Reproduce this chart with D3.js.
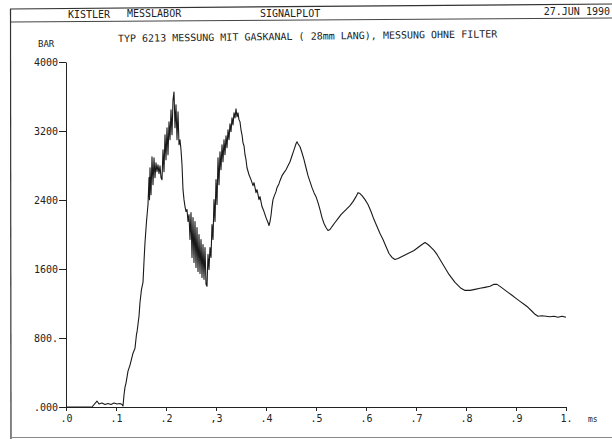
<!DOCTYPE html>
<html>
<head>
<meta charset="utf-8">
<script src="https://cdn.jsdelivr.net/npm/d3@7"></script>
<style>
  body { margin: 0; background: #fff; }
  text { font-family: "DejaVu Sans Mono", monospace; fill: #222; }
</style>
</head>
<body>
<div id="winArea"></div>
<script>
// header / title texts
const headerLeft = ["KISTLER", "MESSLABOR", "SIGNALPLOT"];
const headerDate = "27.JUN 1990";
const plotTitle = "TYP 6213 MESSUNG MIT GASKANAL ( 28mm LANG), MESSUNG OHNE FILTER";

// axis ticks
const yTicks = [0, 800, 1600, 2400, 3200, 4000];
const yTickLabels = [".000", "800.", "1600", "2400", "3200", "4000"];
const xTicks = [0, 0.1, 0.2, 0.3, 0.4, 0.5, 0.6, 0.7, 0.8, 0.9, 1.0];
const xTickLabels = [".0", ".1", ".2", ",3", ".4", ".5", ".6", ".7", ".8", ".9", "1."];

// signal (time in ms, pressure in BAR)
const timeMs = [
  0, 0.052, 0.062, 0.066, 0.072, 0.078, 0.084, 0.090, 0.096, 0.102, 0.108, 0.112, 0.114, 0.116, 0.118, 0.120,
  0.124, 0.128, 0.134, 0.138, 0.141, 0.142, 0.146, 0.148, 0.151, 0.154, 0.156, 0.158, 0.161, 0.164, 0.166,
  0.167, 0.168, 0.170, 0.172, 0.174, 0.176, 0.178, 0.180, 0.182, 0.184, 0.186, 0.188, 0.190, 0.192, 0.194,
  0.196, 0.198, 0.200, 0.202, 0.204, 0.206, 0.208, 0.210, 0.212, 0.214, 0.216, 0.218, 0.220, 0.222, 0.224,
  0.226, 0.228, 0.230, 0.232, 0.234, 0.236, 0.238, 0.240, 0.242, 0.244, 0.246, 0.248, 0.250, 0.252, 0.254,
  0.256, 0.258, 0.260, 0.262, 0.264, 0.266, 0.268, 0.270, 0.272, 0.274, 0.276, 0.278, 0.280, 0.282, 0.284,
  0.286, 0.288, 0.290, 0.292, 0.294, 0.296, 0.298, 0.300, 0.302, 0.304, 0.306, 0.308, 0.310, 0.312, 0.314,
  0.316, 0.318, 0.320, 0.322, 0.324, 0.326, 0.328, 0.330, 0.332, 0.334, 0.336, 0.338, 0.340, 0.342, 0.344,
  0.346, 0.348, 0.350, 0.352, 0.354, 0.356, 0.358, 0.360, 0.362, 0.366, 0.370, 0.374, 0.376, 0.380, 0.382,
  0.386, 0.388, 0.392, 0.396, 0.400, 0.404, 0.406, 0.408, 0.410, 0.412, 0.414, 0.416, 0.420, 0.422, 0.426,
  0.428, 0.432, 0.436, 0.440, 0.444, 0.448, 0.452, 0.456, 0.460, 0.462, 0.464, 0.468, 0.472, 0.476, 0.480,
  0.484, 0.488, 0.492, 0.496, 0.500, 0.504, 0.508, 0.512, 0.516, 0.520, 0.524, 0.528, 0.532, 0.538, 0.544,
  0.550, 0.556, 0.562, 0.568, 0.574, 0.580, 0.584, 0.588, 0.592, 0.598, 0.604, 0.610, 0.616, 0.622, 0.628,
  0.634, 0.640, 0.646, 0.652, 0.658, 0.664, 0.672, 0.680, 0.688, 0.696, 0.704, 0.712, 0.718, 0.724, 0.730,
  0.736, 0.742, 0.748, 0.754, 0.760, 0.766, 0.772, 0.778, 0.784, 0.790, 0.798, 0.808, 0.818, 0.828, 0.838,
  0.848, 0.856, 0.862, 0.868, 0.876, 0.884, 0.892, 0.900, 0.908, 0.916, 0.924, 0.932, 0.938, 0.944, 0.952,
  0.960, 0.968, 0.976, 0.984, 0.992, 1.000
];
const pressureBar = [
  0, 0, 69, 35, 46, 29, 40, 29, 46, 35, 40, 29, 12, 139, 231, 277,
  416, 486, 624, 682, 844, 867, 1052, 1214, 1364, 1445, 1688, 1907, 2150, 2347, 2659,
  2404, 2774, 2462, 2902, 2578, 2890, 2659, 2832, 2728, 2809, 2705, 2797, 2659, 2636, 2982,
  2728, 3156, 2867, 3237, 2925, 3306, 3098, 3445, 3156, 3560, 3653, 3237, 3503, 3098, 3422,
  3040, 3098, 2982, 2809, 2520, 2404, 2324, 2266, 2289, 2150, 2231, 1942, 2254, 1734, 2197,
  1676, 2150, 1618, 2081, 1572, 2000, 1549, 1942, 1503, 1884, 1480, 1850, 1422, 1399, 1769,
  1595, 1850, 1734, 2115, 1942, 2404, 2150, 2636, 2347, 2890, 2578, 2959, 2751, 3040, 2844,
  3098, 2925, 3144, 3006, 3214, 3098, 3283, 3191, 3352, 3271, 3410, 3352, 3456, 3364, 3410,
  3329, 3306, 3214, 3156, 3063, 3029, 2925, 2867, 2774, 2693, 2636, 2566, 2601, 2485, 2520,
  2404, 2439, 2324, 2266, 2196, 2139, 2104, 2150, 2220, 2324, 2404, 2439, 2497, 2543, 2589,
  2624, 2682, 2717, 2751, 2798, 2844, 2913, 2982, 3052, 3075, 3052, 3017, 2948, 2867, 2774,
  2682, 2613, 2543, 2485, 2439, 2370, 2289, 2196, 2127, 2081, 2046, 2058, 2092, 2139, 2185,
  2231, 2266, 2300, 2335, 2381, 2439, 2485, 2474, 2451, 2404, 2347, 2266, 2173, 2092, 2011,
  1942, 1861, 1780, 1734, 1711, 1722, 1745, 1769, 1792, 1815, 1850, 1884, 1907, 1884, 1850,
  1815, 1769, 1711, 1653, 1595, 1537, 1491, 1445, 1410, 1376, 1352, 1352, 1364, 1376, 1387,
  1399, 1422, 1422, 1399, 1364, 1329, 1295, 1260, 1225, 1191, 1156, 1110, 1075, 1052, 1058,
  1052, 1046, 1052, 1040, 1052, 1040
];

const width = 612;
const height = 439;

const svg = d3.select("#winArea")
  .append("svg")
  .attr("width", width)
  .attr("height", height);

//frame lines (scan is slightly tilted at the top)
svg.append("line").attr("x1", 10).attr("y1", 9).attr("x2", 612).attr("y2", 4)
  .attr("stroke", "#333").attr("stroke-width", 1.2);
svg.append("line").attr("x1", 10).attr("y1", 22).attr("x2", 612).attr("y2", 18)
  .attr("stroke", "#444").attr("stroke-width", 1);
svg.append("line").attr("x1", 10.5).attr("y1", 9).attr("x2", 11).attr("y2", 439)
  .attr("stroke", "#333").attr("stroke-width", 1.2);
svg.append("line").attr("x1", 11).attr("y1", 437.5).attr("x2", 612).attr("y2", 437.5)
  .attr("stroke", "#888").attr("stroke-width", 1);

//header
const headerX = [68, 127, 260];
svg.selectAll(".hdr")
  .data(headerLeft)
  .join("text")
  .attr("class", "hdr")
  .attr("x", (d, i) => headerX[i])
  .attr("y", (d, i) => 18 - i * 0.7)
  .style("font-size", "10px")
  .text(d => d);

svg.append("text")
  .attr("x", 610)
  .attr("y", 15)
  .attr("text-anchor", "end")
  .style("font-size", "10px")
  .text(headerDate);

//title
svg.append("text")
  .attr("x", 118)
  .attr("y", 42)
  .attr("transform", "rotate(-0.7, 118, 42)")
  .style("font-size", "10px")
  .text(plotTitle);

svg.append("text")
  .attr("x", 38)
  .attr("y", 47)
  .style("font-size", "9px")
  .text("BAR");

//scales
const xScale = d3.scaleLinear().domain([0, 1]).range([66, 566]);
const yScale = d3.scaleLinear().domain([0, 4000]).range([407, 62]);

//y axis
const yAxis = svg.append("g")
  .attr("transform", "translate(66, 0)")
  .call(d3.axisLeft(yScale)
    .tickValues(yTicks)
    .tickSize(7)
    .tickSizeOuter(0)
    .tickPadding(1)
    .tickFormat((d, i) => yTickLabels[i]));

//x axis
const xAxis = svg.append("g")
  .attr("transform", "translate(0, 407)")
  .call(d3.axisBottom(xScale)
    .tickValues(xTicks)
    .tickSize(4)
    .tickSizeOuter(0)
    .tickPadding(4)
    .tickFormat((d, i) => xTickLabels[i]));

[yAxis, xAxis].forEach(ax => {
  ax.selectAll("path, line").attr("stroke", "#222").attr("stroke-width", 1);
  ax.selectAll("text")
    .style("font-family", "'DejaVu Sans Mono', monospace")
    .style("font-size", "10px")
    .style("fill", "#222");
});

svg.append("text")
  .attr("x", 588)
  .attr("y", 422)
  .style("font-size", "8px")
  .text("ms");

//signal line
const signal = timeMs.map((t, i) => ({ t: t, v: pressureBar[i] }));

const line = d3.line()
  .x(d => xScale(d.t))
  .y(d => yScale(d.v));

svg.append("path")
  .datum(signal)
  .attr("fill", "none")
  .attr("stroke", "#1a1a1a")
  .attr("stroke-width", 1.1)
  .attr("stroke-linejoin", "round")
  .attr("d", line);
</script>
</body>
</html>
